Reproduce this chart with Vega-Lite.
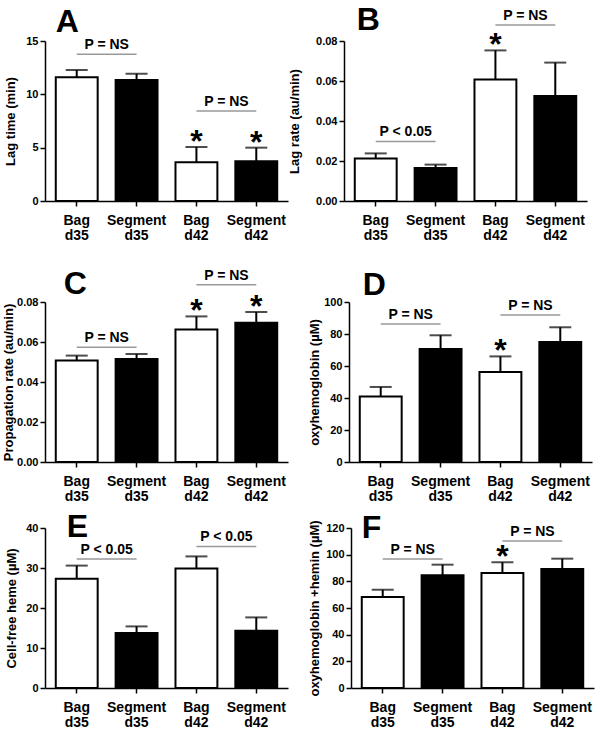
{
  "$schema": "https://vega.github.io/schema/vega-lite/v6.json",
  "padding": {"left": 2, "top": 3, "right": 5, "bottom": 1},
  "background": "white",
  "config": {
    "font": "Liberation Sans",
    "view": {"stroke": null},
    "axis": {"domainColor": "black", "domainWidth": 1.5, "tickColor": "black", "tickWidth": 1.5, "tickSize": 5, "labelColor": "black", "labelFont": "Liberation Sans", "labelFontWeight": "bold", "titleFont": "Liberation Sans", "titleFontWeight": "bold", "titleColor": "black", "grid": false},
    "axisY": {"labelFontSize": 11, "titleFontSize": 13, "labelPadding": 2},
    "axisX": {"labelFontSize": 14, "labelAngle": 0, "labelPadding": 7, "labelLineHeight": 15}
  },
  "datasets": {
    "bars": [
      {"panel": "A", "group": "Bag d35", "kind": "Bag", "mean": 11.6, "hi": 12.28, "star": false},
      {"panel": "A", "group": "Segment d35", "kind": "Segment", "mean": 11.34, "hi": 11.93, "star": false},
      {"panel": "A", "group": "Bag d42", "kind": "Bag", "mean": 3.63, "hi": 5.06, "star": true},
      {"panel": "A", "group": "Segment d42", "kind": "Segment", "mean": 3.72, "hi": 5.0, "star": true},
      {"panel": "B", "group": "Bag d35", "kind": "Bag", "mean": 0.0212, "hi": 0.0238, "star": false},
      {"panel": "B", "group": "Segment d35", "kind": "Segment", "mean": 0.0165, "hi": 0.0182, "star": false},
      {"panel": "B", "group": "Bag d42", "kind": "Bag", "mean": 0.0608, "hi": 0.0753, "star": true},
      {"panel": "B", "group": "Segment d42", "kind": "Segment", "mean": 0.0525, "hi": 0.0692, "star": false},
      {"panel": "C", "group": "Bag d35", "kind": "Bag", "mean": 0.0508, "hi": 0.0532, "star": false},
      {"panel": "C", "group": "Segment d35", "kind": "Segment", "mean": 0.0515, "hi": 0.054, "star": false},
      {"panel": "C", "group": "Bag d42", "kind": "Bag", "mean": 0.0663, "hi": 0.0728, "star": true},
      {"panel": "C", "group": "Segment d42", "kind": "Segment", "mean": 0.0696, "hi": 0.075, "star": true},
      {"panel": "D", "group": "Bag d35", "kind": "Bag", "mean": 41.0, "hi": 46.9, "star": false},
      {"panel": "D", "group": "Segment d35", "kind": "Segment", "mean": 70.6, "hi": 79.2, "star": false},
      {"panel": "D", "group": "Bag d42", "kind": "Bag", "mean": 56.25, "hi": 66.0, "star": true},
      {"panel": "D", "group": "Segment d42", "kind": "Segment", "mean": 75.0, "hi": 84.2, "star": false},
      {"panel": "E", "group": "Bag d35", "kind": "Bag", "mean": 27.3, "hi": 30.6, "star": false},
      {"panel": "E", "group": "Segment d35", "kind": "Segment", "mean": 13.75, "hi": 15.4, "star": false},
      {"panel": "E", "group": "Bag d42", "kind": "Bag", "mean": 29.9, "hi": 32.9, "star": false},
      {"panel": "E", "group": "Segment d42", "kind": "Segment", "mean": 14.3, "hi": 17.65, "star": false},
      {"panel": "F", "group": "Bag d35", "kind": "Bag", "mean": 68.25, "hi": 73.7, "star": false},
      {"panel": "F", "group": "Segment d35", "kind": "Segment", "mean": 84.5, "hi": 92.5, "star": false},
      {"panel": "F", "group": "Bag d42", "kind": "Bag", "mean": 86.25, "hi": 94.3, "star": true},
      {"panel": "F", "group": "Segment d42", "kind": "Segment", "mean": 89.25, "hi": 97.0, "star": false}
    ],
    "sig": [
      {"panel": "A", "from": "Bag d35", "to": "Segment d35", "label": "P = NS", "y": 13.75},
      {"panel": "A", "from": "Bag d42", "to": "Segment d42", "label": "P = NS", "y": 8.44},
      {"panel": "B", "from": "Bag d35", "to": "Segment d35", "label": "P < 0.05", "y": 0.0298},
      {"panel": "B", "from": "Bag d42", "to": "Segment d42", "label": "P = NS", "y": 0.088},
      {"panel": "C", "from": "Bag d35", "to": "Segment d35", "label": "P = NS", "y": 0.0574},
      {"panel": "C", "from": "Bag d42", "to": "Segment d42", "label": "P = NS", "y": 0.0886},
      {"panel": "D", "from": "Bag d35", "to": "Segment d35", "label": "P = NS", "y": 86.25},
      {"panel": "D", "from": "Bag d42", "to": "Segment d42", "label": "P = NS", "y": 91.9},
      {"panel": "E", "from": "Bag d35", "to": "Segment d35", "label": "P < 0.05", "y": 32.25},
      {"panel": "E", "from": "Bag d42", "to": "Segment d42", "label": "P < 0.05", "y": 35.4},
      {"panel": "F", "from": "Bag d35", "to": "Segment d35", "label": "P = NS", "y": 96.75},
      {"panel": "F", "from": "Bag d42", "to": "Segment d42", "label": "P = NS", "y": 110.25}
    ]
  },
  "vconcat": [
    {
      "hconcat": [
        {
          "width": 243, "height": 160,
          "layer": [
            {"data": {"name": "bars"}, "transform": [{"filter": "datum.panel == 'A'"}], "mark": {"type": "bar", "stroke": "black", "strokeWidth": 2},
             "encoding": {
               "x": {"field": "group", "type": "nominal", "scale": {"domain": ["Bag d35", "Segment d35", "Bag d42", "Segment d42"], "paddingInner": 0.3, "paddingOuter": 0.18}, "axis": {"title": null, "labelExpr": "split(datum.label, ' ')"}},
               "y": {"field": "mean", "type": "quantitative", "scale": {"domain": [0, 15], "nice": false}, "axis": {"title": "Lag time (min)", "values": [0, 5, 10, 15], "titlePadding": 8}},
               "fill": {"field": "kind", "type": "nominal", "scale": {"domain": ["Bag", "Segment"], "range": ["white", "black"]}, "legend": null}}},
            {"data": {"name": "bars"}, "transform": [{"filter": "datum.panel == 'A'"}], "mark": {"type": "rule", "strokeWidth": 2, "color": "black"},
             "encoding": {"x": {"field": "group", "type": "nominal", "axis": {"title": null, "labelExpr": "split(datum.label, ' ')"}}, "y": {"field": "mean", "type": "quantitative", "axis": {"title": "Lag time (min)", "values": [0, 5, 10, 15], "titlePadding": 8}}, "y2": {"field": "hi"}}},
            {"data": {"name": "bars"}, "transform": [{"filter": "datum.panel == 'A'"}], "mark": {"type": "tick", "size": 22, "thickness": 2, "color": "black"},
             "encoding": {"x": {"field": "group", "type": "nominal", "axis": {"title": null, "labelExpr": "split(datum.label, ' ')"}}, "y": {"field": "hi", "type": "quantitative", "axis": {"title": "Lag time (min)", "values": [0, 5, 10, 15], "titlePadding": 8}}}},
            {"data": {"name": "bars"}, "transform": [{"filter": "datum.panel == 'A' && datum.star"}], "mark": {"type": "text", "text": "*", "fontSize": 32, "fontWeight": "bold", "baseline": "alphabetic", "dy": 5, "color": "black"},
             "encoding": {"x": {"field": "group", "type": "nominal", "axis": {"title": null, "labelExpr": "split(datum.label, ' ')"}}, "y": {"field": "hi", "type": "quantitative", "axis": {"title": "Lag time (min)", "values": [0, 5, 10, 15], "titlePadding": 8}}}},
            {"data": {"name": "sig"}, "transform": [{"filter": "datum.panel == 'A'"}], "mark": {"type": "rule", "strokeWidth": 1.5, "color": "#999999"},
             "encoding": {"x": {"field": "from", "type": "nominal", "axis": {"title": null, "labelExpr": "split(datum.label, ' ')"}}, "x2": {"field": "to"}, "y": {"field": "y", "type": "quantitative", "axis": {"title": "Lag time (min)", "values": [0, 5, 10, 15], "titlePadding": 8}}}},
            {"data": {"name": "sig"}, "transform": [{"filter": "datum.panel == 'A'"}], "mark": {"type": "text", "fontSize": 14, "fontWeight": "bold", "baseline": "alphabetic", "dx": 30, "dy": -5, "color": "black"},
             "encoding": {"x": {"field": "from", "type": "nominal", "axis": {"title": null, "labelExpr": "split(datum.label, ' ')"}}, "y": {"field": "y", "type": "quantitative", "axis": {"title": "Lag time (min)", "values": [0, 5, 10, 15], "titlePadding": 8}}, "text": {"field": "label"}}},
            {"data": {"values": [{"letter": "A"}]}, "mark": {"type": "text", "fontSize": 32, "fontWeight": "bold", "align": "left", "baseline": "alphabetic", "dx": -21, "color": "black"},
             "encoding": {"x": {"datum": "Bag d35", "type": "nominal", "axis": {"title": null, "labelExpr": "split(datum.label, ' ')"}}, "y": {"datum": 15.84, "type": "quantitative", "axis": {"title": "Lag time (min)", "values": [0, 5, 10, 15], "titlePadding": 8}}, "text": {"field": "letter"}}}
          ]
        },
        {
          "width": 243, "height": 160,
          "layer": [
            {"data": {"name": "bars"}, "transform": [{"filter": "datum.panel == 'B'"}], "mark": {"type": "bar", "stroke": "black", "strokeWidth": 2},
             "encoding": {
               "x": {"field": "group", "type": "nominal", "scale": {"domain": ["Bag d35", "Segment d35", "Bag d42", "Segment d42"], "paddingInner": 0.3, "paddingOuter": 0.18}, "axis": {"title": null, "labelExpr": "split(datum.label, ' ')"}},
               "y": {"field": "mean", "type": "quantitative", "scale": {"domain": [0, 0.08], "nice": false}, "axis": {"title": "Lag rate (au/min)", "values": [0, 0.02, 0.04, 0.06, 0.08], "format": ".2f", "titlePadding": 14}},
               "fill": {"field": "kind", "type": "nominal", "scale": {"domain": ["Bag", "Segment"], "range": ["white", "black"]}, "legend": null}}},
            {"data": {"name": "bars"}, "transform": [{"filter": "datum.panel == 'B'"}], "mark": {"type": "rule", "strokeWidth": 2, "color": "black"},
             "encoding": {"x": {"field": "group", "type": "nominal", "axis": {"title": null, "labelExpr": "split(datum.label, ' ')"}}, "y": {"field": "mean", "type": "quantitative", "axis": {"title": "Lag rate (au/min)", "values": [0, 0.02, 0.04, 0.06, 0.08], "format": ".2f", "titlePadding": 14}}, "y2": {"field": "hi"}}},
            {"data": {"name": "bars"}, "transform": [{"filter": "datum.panel == 'B'"}], "mark": {"type": "tick", "size": 22, "thickness": 2, "color": "black"},
             "encoding": {"x": {"field": "group", "type": "nominal", "axis": {"title": null, "labelExpr": "split(datum.label, ' ')"}}, "y": {"field": "hi", "type": "quantitative", "axis": {"title": "Lag rate (au/min)", "values": [0, 0.02, 0.04, 0.06, 0.08], "format": ".2f", "titlePadding": 14}}}},
            {"data": {"name": "bars"}, "transform": [{"filter": "datum.panel == 'B' && datum.star"}], "mark": {"type": "text", "text": "*", "fontSize": 32, "fontWeight": "bold", "baseline": "alphabetic", "dy": 5, "color": "black"},
             "encoding": {"x": {"field": "group", "type": "nominal", "axis": {"title": null, "labelExpr": "split(datum.label, ' ')"}}, "y": {"field": "hi", "type": "quantitative", "axis": {"title": "Lag rate (au/min)", "values": [0, 0.02, 0.04, 0.06, 0.08], "format": ".2f", "titlePadding": 14}}}},
            {"data": {"name": "sig"}, "transform": [{"filter": "datum.panel == 'B'"}], "mark": {"type": "rule", "strokeWidth": 1.5, "color": "#999999"},
             "encoding": {"x": {"field": "from", "type": "nominal", "axis": {"title": null, "labelExpr": "split(datum.label, ' ')"}}, "x2": {"field": "to"}, "y": {"field": "y", "type": "quantitative", "axis": {"title": "Lag rate (au/min)", "values": [0, 0.02, 0.04, 0.06, 0.08], "format": ".2f", "titlePadding": 14}}}},
            {"data": {"name": "sig"}, "transform": [{"filter": "datum.panel == 'B'"}], "mark": {"type": "text", "fontSize": 14, "fontWeight": "bold", "baseline": "alphabetic", "dx": 30, "dy": -5, "color": "black"},
             "encoding": {"x": {"field": "from", "type": "nominal", "axis": {"title": null, "labelExpr": "split(datum.label, ' ')"}}, "y": {"field": "y", "type": "quantitative", "axis": {"title": "Lag rate (au/min)", "values": [0, 0.02, 0.04, 0.06, 0.08], "format": ".2f", "titlePadding": 14}}, "text": {"field": "label"}}},
            {"data": {"values": [{"letter": "B"}]}, "mark": {"type": "text", "fontSize": 32, "fontWeight": "bold", "align": "left", "baseline": "alphabetic", "dx": -19, "color": "black"},
             "encoding": {"x": {"datum": "Bag d35", "type": "nominal", "axis": {"title": null, "labelExpr": "split(datum.label, ' ')"}}, "y": {"datum": 0.0855, "type": "quantitative", "axis": {"title": "Lag rate (au/min)", "values": [0, 0.02, 0.04, 0.06, 0.08], "format": ".2f", "titlePadding": 14}}, "text": {"field": "letter"}}}
          ]
        }
      ],
      "spacing": 0
    },
    {
      "vconcat": [
        {
          "hconcat": [
            {
              "width": 243, "height": 160,
              "layer": [
                {"data": {"name": "bars"}, "transform": [{"filter": "datum.panel == 'C'"}], "mark": {"type": "bar", "stroke": "black", "strokeWidth": 2},
                 "encoding": {
                   "x": {"field": "group", "type": "nominal", "scale": {"domain": ["Bag d35", "Segment d35", "Bag d42", "Segment d42"], "paddingInner": 0.3, "paddingOuter": 0.18}, "axis": {"title": null, "labelExpr": "split(datum.label, ' ')"}},
                   "y": {"field": "mean", "type": "quantitative", "scale": {"domain": [0, 0.08], "nice": false}, "axis": {"title": "Propagation rate (au/min)", "values": [0, 0.02, 0.04, 0.06, 0.08], "format": ".2f", "titlePadding": 1}},
                   "fill": {"field": "kind", "type": "nominal", "scale": {"domain": ["Bag", "Segment"], "range": ["white", "black"]}, "legend": null}}},
                {"data": {"name": "bars"}, "transform": [{"filter": "datum.panel == 'C'"}], "mark": {"type": "rule", "strokeWidth": 2, "color": "black"},
                 "encoding": {"x": {"field": "group", "type": "nominal", "axis": {"title": null, "labelExpr": "split(datum.label, ' ')"}}, "y": {"field": "mean", "type": "quantitative", "axis": {"title": "Propagation rate (au/min)", "values": [0, 0.02, 0.04, 0.06, 0.08], "format": ".2f", "titlePadding": 1}}, "y2": {"field": "hi"}}},
                {"data": {"name": "bars"}, "transform": [{"filter": "datum.panel == 'C'"}], "mark": {"type": "tick", "size": 22, "thickness": 2, "color": "black"},
                 "encoding": {"x": {"field": "group", "type": "nominal", "axis": {"title": null, "labelExpr": "split(datum.label, ' ')"}}, "y": {"field": "hi", "type": "quantitative", "axis": {"title": "Propagation rate (au/min)", "values": [0, 0.02, 0.04, 0.06, 0.08], "format": ".2f", "titlePadding": 1}}}},
                {"data": {"name": "bars"}, "transform": [{"filter": "datum.panel == 'C' && datum.star"}], "mark": {"type": "text", "text": "*", "fontSize": 32, "fontWeight": "bold", "baseline": "alphabetic", "dy": 5, "color": "black"},
                 "encoding": {"x": {"field": "group", "type": "nominal", "axis": {"title": null, "labelExpr": "split(datum.label, ' ')"}}, "y": {"field": "hi", "type": "quantitative", "axis": {"title": "Propagation rate (au/min)", "values": [0, 0.02, 0.04, 0.06, 0.08], "format": ".2f", "titlePadding": 1}}}},
                {"data": {"name": "sig"}, "transform": [{"filter": "datum.panel == 'C'"}], "mark": {"type": "rule", "strokeWidth": 1.5, "color": "#999999"},
                 "encoding": {"x": {"field": "from", "type": "nominal", "axis": {"title": null, "labelExpr": "split(datum.label, ' ')"}}, "x2": {"field": "to"}, "y": {"field": "y", "type": "quantitative", "axis": {"title": "Propagation rate (au/min)", "values": [0, 0.02, 0.04, 0.06, 0.08], "format": ".2f", "titlePadding": 1}}}},
                {"data": {"name": "sig"}, "transform": [{"filter": "datum.panel == 'C'"}], "mark": {"type": "text", "fontSize": 14, "fontWeight": "bold", "baseline": "alphabetic", "dx": 30, "dy": -5, "color": "black"},
                 "encoding": {"x": {"field": "from", "type": "nominal", "axis": {"title": null, "labelExpr": "split(datum.label, ' ')"}}, "y": {"field": "y", "type": "quantitative", "axis": {"title": "Propagation rate (au/min)", "values": [0, 0.02, 0.04, 0.06, 0.08], "format": ".2f", "titlePadding": 1}}, "text": {"field": "label"}}},
                {"data": {"values": [{"letter": "C"}]}, "mark": {"type": "text", "fontSize": 32, "fontWeight": "bold", "align": "left", "baseline": "alphabetic", "dx": -13, "color": "black"},
                 "encoding": {"x": {"datum": "Bag d35", "type": "nominal", "axis": {"title": null, "labelExpr": "split(datum.label, ' ')"}}, "y": {"datum": 0.084, "type": "quantitative", "axis": {"title": "Propagation rate (au/min)", "values": [0, 0.02, 0.04, 0.06, 0.08], "format": ".2f", "titlePadding": 1}}, "text": {"field": "letter"}}}
              ]
            },
            {
              "width": 243, "height": 160,
              "layer": [
                {"data": {"name": "bars"}, "transform": [{"filter": "datum.panel == 'D'"}], "mark": {"type": "bar", "stroke": "black", "strokeWidth": 2},
                 "encoding": {
                   "x": {"field": "group", "type": "nominal", "scale": {"domain": ["Bag d35", "Segment d35", "Bag d42", "Segment d42"], "paddingInner": 0.3, "paddingOuter": 0.18}, "axis": {"title": null, "labelExpr": "split(datum.label, ' ')"}},
                   "y": {"field": "mean", "type": "quantitative", "scale": {"domain": [0, 100], "nice": false}, "axis": {"title": "oxyhemoglobin (µM)", "values": [0, 20, 40, 60, 80, 100], "titlePadding": 2}},
                   "fill": {"field": "kind", "type": "nominal", "scale": {"domain": ["Bag", "Segment"], "range": ["white", "black"]}, "legend": null}}},
                {"data": {"name": "bars"}, "transform": [{"filter": "datum.panel == 'D'"}], "mark": {"type": "rule", "strokeWidth": 2, "color": "black"},
                 "encoding": {"x": {"field": "group", "type": "nominal", "axis": {"title": null, "labelExpr": "split(datum.label, ' ')"}}, "y": {"field": "mean", "type": "quantitative", "axis": {"title": "oxyhemoglobin (µM)", "values": [0, 20, 40, 60, 80, 100], "titlePadding": 2}}, "y2": {"field": "hi"}}},
                {"data": {"name": "bars"}, "transform": [{"filter": "datum.panel == 'D'"}], "mark": {"type": "tick", "size": 22, "thickness": 2, "color": "black"},
                 "encoding": {"x": {"field": "group", "type": "nominal", "axis": {"title": null, "labelExpr": "split(datum.label, ' ')"}}, "y": {"field": "hi", "type": "quantitative", "axis": {"title": "oxyhemoglobin (µM)", "values": [0, 20, 40, 60, 80, 100], "titlePadding": 2}}}},
                {"data": {"name": "bars"}, "transform": [{"filter": "datum.panel == 'D' && datum.star"}], "mark": {"type": "text", "text": "*", "fontSize": 32, "fontWeight": "bold", "baseline": "alphabetic", "dy": 5, "color": "black"},
                 "encoding": {"x": {"field": "group", "type": "nominal", "axis": {"title": null, "labelExpr": "split(datum.label, ' ')"}}, "y": {"field": "hi", "type": "quantitative", "axis": {"title": "oxyhemoglobin (µM)", "values": [0, 20, 40, 60, 80, 100], "titlePadding": 2}}}},
                {"data": {"name": "sig"}, "transform": [{"filter": "datum.panel == 'D'"}], "mark": {"type": "rule", "strokeWidth": 1.5, "color": "#999999"},
                 "encoding": {"x": {"field": "from", "type": "nominal", "axis": {"title": null, "labelExpr": "split(datum.label, ' ')"}}, "x2": {"field": "to"}, "y": {"field": "y", "type": "quantitative", "axis": {"title": "oxyhemoglobin (µM)", "values": [0, 20, 40, 60, 80, 100], "titlePadding": 2}}}},
                {"data": {"name": "sig"}, "transform": [{"filter": "datum.panel == 'D'"}], "mark": {"type": "text", "fontSize": 14, "fontWeight": "bold", "baseline": "alphabetic", "dx": 30, "dy": -5, "color": "black"},
                 "encoding": {"x": {"field": "from", "type": "nominal", "axis": {"title": null, "labelExpr": "split(datum.label, ' ')"}}, "y": {"field": "y", "type": "quantitative", "axis": {"title": "oxyhemoglobin (µM)", "values": [0, 20, 40, 60, 80, 100], "titlePadding": 2}}, "text": {"field": "label"}}},
                {"data": {"values": [{"letter": "D"}]}, "mark": {"type": "text", "fontSize": 32, "fontWeight": "bold", "align": "left", "baseline": "alphabetic", "dx": -18, "color": "black"},
                 "encoding": {"x": {"datum": "Bag d35", "type": "nominal", "axis": {"title": null, "labelExpr": "split(datum.label, ' ')"}}, "y": {"datum": 104.4, "type": "quantitative", "axis": {"title": "oxyhemoglobin (µM)", "values": [0, 20, 40, 60, 80, 100], "titlePadding": 2}}, "text": {"field": "letter"}}}
              ]
            }
          ],
          "spacing": 20
        },
        {
          "hconcat": [
            {
              "width": 243, "height": 160,
              "layer": [
                {"data": {"name": "bars"}, "transform": [{"filter": "datum.panel == 'E'"}], "mark": {"type": "bar", "stroke": "black", "strokeWidth": 2},
                 "encoding": {
                   "x": {"field": "group", "type": "nominal", "scale": {"domain": ["Bag d35", "Segment d35", "Bag d42", "Segment d42"], "paddingInner": 0.3, "paddingOuter": 0.18}, "axis": {"title": null, "labelExpr": "split(datum.label, ' ')"}},
                   "y": {"field": "mean", "type": "quantitative", "scale": {"domain": [0, 40], "nice": false}, "axis": {"title": "Cell-free heme (µM)", "values": [0, 10, 20, 30, 40], "titlePadding": 7}},
                   "fill": {"field": "kind", "type": "nominal", "scale": {"domain": ["Bag", "Segment"], "range": ["white", "black"]}, "legend": null}}},
                {"data": {"name": "bars"}, "transform": [{"filter": "datum.panel == 'E'"}], "mark": {"type": "rule", "strokeWidth": 2, "color": "black"},
                 "encoding": {"x": {"field": "group", "type": "nominal", "axis": {"title": null, "labelExpr": "split(datum.label, ' ')"}}, "y": {"field": "mean", "type": "quantitative", "axis": {"title": "Cell-free heme (µM)", "values": [0, 10, 20, 30, 40], "titlePadding": 7}}, "y2": {"field": "hi"}}},
                {"data": {"name": "bars"}, "transform": [{"filter": "datum.panel == 'E'"}], "mark": {"type": "tick", "size": 22, "thickness": 2, "color": "black"},
                 "encoding": {"x": {"field": "group", "type": "nominal", "axis": {"title": null, "labelExpr": "split(datum.label, ' ')"}}, "y": {"field": "hi", "type": "quantitative", "axis": {"title": "Cell-free heme (µM)", "values": [0, 10, 20, 30, 40], "titlePadding": 7}}}},
                {"data": {"name": "sig"}, "transform": [{"filter": "datum.panel == 'E'"}], "mark": {"type": "rule", "strokeWidth": 1.5, "color": "#999999"},
                 "encoding": {"x": {"field": "from", "type": "nominal", "axis": {"title": null, "labelExpr": "split(datum.label, ' ')"}}, "x2": {"field": "to"}, "y": {"field": "y", "type": "quantitative", "axis": {"title": "Cell-free heme (µM)", "values": [0, 10, 20, 30, 40], "titlePadding": 7}}}},
                {"data": {"name": "sig"}, "transform": [{"filter": "datum.panel == 'E'"}], "mark": {"type": "text", "fontSize": 14, "fontWeight": "bold", "baseline": "alphabetic", "dx": 30, "dy": -5, "color": "black"},
                 "encoding": {"x": {"field": "from", "type": "nominal", "axis": {"title": null, "labelExpr": "split(datum.label, ' ')"}}, "y": {"field": "y", "type": "quantitative", "axis": {"title": "Cell-free heme (µM)", "values": [0, 10, 20, 30, 40], "titlePadding": 7}}, "text": {"field": "label"}}},
                {"data": {"values": [{"letter": "E"}]}, "mark": {"type": "text", "fontSize": 32, "fontWeight": "bold", "align": "left", "baseline": "alphabetic", "dx": -10, "color": "black"},
                 "encoding": {"x": {"datum": "Bag d35", "type": "nominal", "axis": {"title": null, "labelExpr": "split(datum.label, ' ')"}}, "y": {"datum": 37.75, "type": "quantitative", "axis": {"title": "Cell-free heme (µM)", "values": [0, 10, 20, 30, 40], "titlePadding": 7}}, "text": {"field": "letter"}}}
              ]
            },
            {
              "width": 243, "height": 160,
              "layer": [
                {"data": {"name": "bars"}, "transform": [{"filter": "datum.panel == 'F'"}], "mark": {"type": "bar", "stroke": "black", "strokeWidth": 2},
                 "encoding": {
                   "x": {"field": "group", "type": "nominal", "scale": {"domain": ["Bag d35", "Segment d35", "Bag d42", "Segment d42"], "paddingInner": 0.3, "paddingOuter": 0.18}, "axis": {"title": null, "labelExpr": "split(datum.label, ' ')"}},
                   "y": {"field": "mean", "type": "quantitative", "scale": {"domain": [0, 120], "nice": false}, "axis": {"title": "oxyhemoglobin +hemin (µM)", "values": [0, 20, 40, 60, 80, 100, 120], "titlePadding": 4}},
                   "fill": {"field": "kind", "type": "nominal", "scale": {"domain": ["Bag", "Segment"], "range": ["white", "black"]}, "legend": null}}},
                {"data": {"name": "bars"}, "transform": [{"filter": "datum.panel == 'F'"}], "mark": {"type": "rule", "strokeWidth": 2, "color": "black"},
                 "encoding": {"x": {"field": "group", "type": "nominal", "axis": {"title": null, "labelExpr": "split(datum.label, ' ')"}}, "y": {"field": "mean", "type": "quantitative", "axis": {"title": "oxyhemoglobin +hemin (µM)", "values": [0, 20, 40, 60, 80, 100, 120], "titlePadding": 4}}, "y2": {"field": "hi"}}},
                {"data": {"name": "bars"}, "transform": [{"filter": "datum.panel == 'F'"}], "mark": {"type": "tick", "size": 22, "thickness": 2, "color": "black"},
                 "encoding": {"x": {"field": "group", "type": "nominal", "axis": {"title": null, "labelExpr": "split(datum.label, ' ')"}}, "y": {"field": "hi", "type": "quantitative", "axis": {"title": "oxyhemoglobin +hemin (µM)", "values": [0, 20, 40, 60, 80, 100, 120], "titlePadding": 4}}}},
                {"data": {"name": "bars"}, "transform": [{"filter": "datum.panel == 'F' && datum.star"}], "mark": {"type": "text", "text": "*", "fontSize": 32, "fontWeight": "bold", "baseline": "alphabetic", "dy": 5, "color": "black"},
                 "encoding": {"x": {"field": "group", "type": "nominal", "axis": {"title": null, "labelExpr": "split(datum.label, ' ')"}}, "y": {"field": "hi", "type": "quantitative", "axis": {"title": "oxyhemoglobin +hemin (µM)", "values": [0, 20, 40, 60, 80, 100, 120], "titlePadding": 4}}}},
                {"data": {"name": "sig"}, "transform": [{"filter": "datum.panel == 'F'"}], "mark": {"type": "rule", "strokeWidth": 1.5, "color": "#999999"},
                 "encoding": {"x": {"field": "from", "type": "nominal", "axis": {"title": null, "labelExpr": "split(datum.label, ' ')"}}, "x2": {"field": "to"}, "y": {"field": "y", "type": "quantitative", "axis": {"title": "oxyhemoglobin +hemin (µM)", "values": [0, 20, 40, 60, 80, 100, 120], "titlePadding": 4}}}},
                {"data": {"name": "sig"}, "transform": [{"filter": "datum.panel == 'F'"}], "mark": {"type": "text", "fontSize": 14, "fontWeight": "bold", "baseline": "alphabetic", "dx": 30, "dy": -5, "color": "black"},
                 "encoding": {"x": {"field": "from", "type": "nominal", "axis": {"title": null, "labelExpr": "split(datum.label, ' ')"}}, "y": {"field": "y", "type": "quantitative", "axis": {"title": "oxyhemoglobin +hemin (µM)", "values": [0, 20, 40, 60, 80, 100, 120], "titlePadding": 4}}, "text": {"field": "label"}}},
                {"data": {"values": [{"letter": "F"}]}, "mark": {"type": "text", "fontSize": 32, "fontWeight": "bold", "align": "left", "baseline": "alphabetic", "dx": -21, "color": "black"},
                 "encoding": {"x": {"datum": "Bag d35", "type": "nominal", "axis": {"title": null, "labelExpr": "split(datum.label, ' ')"}}, "y": {"datum": 112.5, "type": "quantitative", "axis": {"title": "oxyhemoglobin +hemin (µM)", "values": [0, 20, 40, 60, 80, 100, 120], "titlePadding": 4}}, "text": {"field": "letter"}}}
              ]
            }
          ],
          "spacing": 20
        }
      ],
      "spacing": 8
    }
  ],
  "spacing": 25
}
